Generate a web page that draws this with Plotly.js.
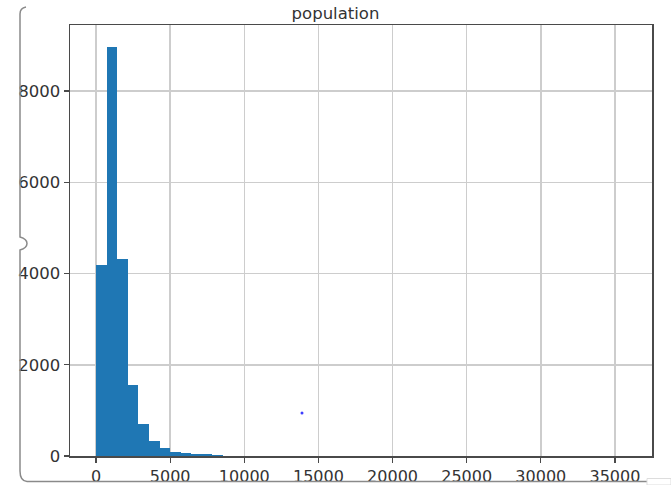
<!DOCTYPE html>
<html>
<head>
<meta charset="utf-8">
<script src="https://cdn.plot.ly/plotly-3.0.1.min.js"></script>
<style>
html,body{margin:0;padding:0;background:#fff;}
#chart{width:671px;height:485px;}
</style>
</head>
<body>
<div id="chart"></div>
<script>
// ---- data ----
const seriesName = "population";
const binStart = 3;
const binEnd = 35682;
const counts = [
  4180, 8958, 4327, 1564, 710, 329, 175, 95, 62, 50,
  45, 12, 8, 6, 4, 3, 2, 1, 1, 1,
  0, 1, 0, 0, 0, 0, 0, 0, 0, 0,
  0, 0, 0, 0, 0, 0, 0, 0, 0, 0,
  1, 0, 0, 0, 0, 0, 0, 0, 0, 1
];
const xTickValues = [0, 5000, 10000, 15000, 20000, 25000, 30000, 35000];
const yTickValues = [0, 2000, 4000, 6000, 8000];

// ---- derived bins ----
const nBins = counts.length;
const binWidth = (binEnd - binStart) / nBins;
const centers = counts.map((_, i) => binStart + binWidth * (i + 0.5));

// ---- layout geometry ----
const W = 671, H = 485;
const M = {l: 70, r: 19, t: 25, b: 29};
const pw = W - M.l - M.r, ph = H - M.t - M.b;
const px = x => (x - M.l) / pw;
const py = y => (H - M.b - y) / ph;
function pathFromPixels(cmds) {
  return cmds.map(c => {
    if (typeof c === 'string') return c;
    return px(c[0]).toFixed(5) + ',' + py(c[1]).toFixed(5);
  }).join(' ');
}

const bracket = pathFromPixels([
  'M', [26, 7], 'Q', [20, 8], [20, 14],
  'L', [20, 237],
  'Q', [27, 239], [27, 243.5],
  'Q', [27, 248], [20, 250],
  'L', [20, 471],
  'Q', [20, 481], [27, 481.5],
  'L', [647, 481.5]
]);

const trace = {
  type: 'bar',
  x: centers,
  y: counts,
  width: binWidth,
  marker: {color: '#1f77b4', line: {width: 0}},
  hoverinfo: 'x+y',
  showlegend: false
};

const axisCommon = {
  showline: true,
  mirror: true,
  linecolor: '#4a4a4a',
  linewidth: 1.5,
  showgrid: true,
  gridcolor: '#cdcdcd',
  gridwidth: 1.5,
  zeroline: false,
  ticks: 'outside',
  ticklen: 5,
  tickwidth: 1.2,
  tickcolor: '#4a4a4a',
  tickformat: 'd'
};

const layout = {
  width: W,
  height: H,
  margin: M,
  paper_bgcolor: '#ffffff',
  plot_bgcolor: '#ffffff',
  bargap: 0,
  title: {
    text: seriesName,
    font: {family: 'DejaVu Sans', size: 16.5, color: '#333333'},
    x: 0.5, xanchor: 'center',
    y: 1 - 13 / H, yanchor: 'middle'
  },
  xaxis: Object.assign({}, axisCommon, {
    range: [-1757, 37500],
    tickvals: xTickValues,
    tickfont: {family: 'DejaVu Sans', size: 16, color: '#333333'}
  }),
  yaxis: Object.assign({}, axisCommon, {
    range: [0, 9447],
    tickvals: yTickValues,
    tickfont: {family: 'DejaVu Sans', size: 16.5, color: '#333333'}
  }),
  shapes: [
    {type: 'path', xref: 'paper', yref: 'paper', path: bracket,
     line: {color: '#8a8a8a', width: 1.5}, layer: 'above'},
    {type: 'rect', xref: 'paper', yref: 'paper',
     x0: px(647), x1: px(671), y0: py(485), y1: py(478.5),
     line: {color: '#dddddd', width: 1}, fillcolor: 'rgba(0,0,0,0)'},
    {type: 'circle', xref: 'paper', yref: 'paper',
     x0: px(300.5), x1: px(303.5), y0: py(414.5), y1: py(411.5),
     line: {width: 0}, fillcolor: '#3d3dff'}
  ]
};

Plotly.newPlot('chart', [trace], layout, {staticPlot: true, displayModeBar: false});
</script>
</body>
</html>
